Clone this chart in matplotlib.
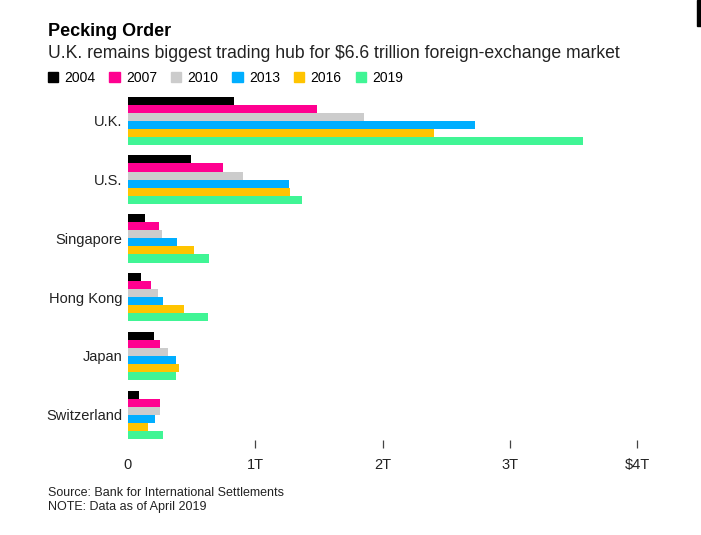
import matplotlib.pyplot as plt
import matplotlib
import numpy as np
from matplotlib.patches import Rectangle, Patch

matplotlib.rcParams["font.family"] = ["Liberation Sans Narrow", "Liberation Sans", "DejaVu Sans"]

# data (trillions of USD, daily FX turnover)
centers = ["U.K.", "U.S.", "Singapore", "Hong Kong", "Japan", "Switzerland"]
years = ["2004", "2007", "2010", "2013", "2016", "2019"]
v2004 = [0.835, 0.499, 0.134, 0.106, 0.207, 0.085]
v2007 = [1.483, 0.745, 0.242, 0.181, 0.250, 0.254]
v2010 = [1.854, 0.904, 0.266, 0.238, 0.312, 0.249]
v2013 = [2.726, 1.263, 0.383, 0.275, 0.374, 0.216]
v2016 = [2.406, 1.272, 0.517, 0.437, 0.399, 0.156]
v2019 = [3.576, 1.370, 0.633, 0.632, 0.376, 0.276]
xticks = [0, 1, 2, 3, 4]
xlabels = ["0", "1T", "2T", "3T", "$4T"]

series = [v2004, v2007, v2010, v2013, v2016, v2019]
colors = ["#000000", "#ff0090", "#cccccc", "#00aeff", "#ffc400", "#40f595"]

fig = plt.figure(figsize=(7.01, 5.35), dpi=100)
ax = fig.add_axes([128 / 701, 1 - 440 / 535, 509 / 701, 348 / 535])

bh = 0.137
y = np.arange(len(centers))
for i, (vals, c) in enumerate(zip(series, colors)):
    ax.barh(y + (i - 2.5) * bh, vals, height=bh, color=c, label=years[i])

ax.set_xlim(0, 4)
ax.set_ylim(5.43, -0.49)
ax.set_yticks(y)
ax.set_yticklabels(centers, fontsize=10.5, color="#222222")
ax.set_xticks(xticks)
ax.set_xticklabels(xlabels, fontsize=10.5, color="#222222")
ax.tick_params(axis="y", length=0, pad=4)
ax.tick_params(axis="x", length=6, width=0.9, color="#444444", pad=7)
ax.xaxis.get_major_ticks()[0].tick1line.set_visible(False)
for s in ax.spines.values():
    s.set_visible(False)

fig.text(48 / 701, 1 - 31 / 535, "Pecking Order", fontsize=13, fontweight="bold", va="center")
fig.text(48 / 701, 1 - 53 / 535, "U.K. remains biggest trading hub for $6.6 trillion foreign-exchange market",
         fontsize=12.7, va="center", color="#222222")

handles = [Patch(color=c) for c in colors]
fig.legend(handles, years, loc="center left", bbox_to_anchor=(42 / 701, 1 - 78 / 535), ncol=6,
           frameon=False, fontsize=10, handlelength=0.75, handleheight=0.75, handletextpad=0.45,
           columnspacing=1.0, borderaxespad=0)

fig.text(48 / 701, 1 - 493 / 535, "Source: Bank for International Settlements", fontsize=9, va="center", color="#222222")
fig.text(48 / 701, 1 - 507 / 535, "NOTE: Data as of April 2019", fontsize=9, va="center", color="#222222")

fig.patches.append(Rectangle((697 / 701, 1 - 26 / 535), 4 / 701, 26 / 535, transform=fig.transFigure,
                             color="black", figure=fig))

fig.savefig("out.png", dpi=100)
